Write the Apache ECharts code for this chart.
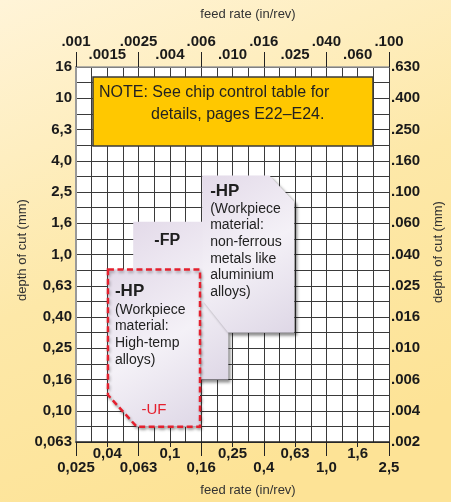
<!DOCTYPE html>
<html><head><meta charset="utf-8">
<script src="https://cdn.jsdelivr.net/npm/echarts@6/dist/echarts.min.js"></script>
<style>html,body{margin:0;padding:0;background:#fff}#c{width:451px;height:502px}</style>
</head><body><div id="c"></div>
<script>
// ---- data ----
const feedMmLabels = ['0,025','0,04','0,063','0,1','0,16','0,25','0,4','0,63','1,0','1,6','2,5'];
const feedInLabels = ['.001','.0015','.0025','.004','.006','.010','.016','.025','.040','.060','.100'];
const depthMmLabels = ['0,063','0,10','0,16','0,25','0,40','0,63','1,0','1,6','2,5','4,0','6,3','10','16'];
const depthInLabels = ['.002','.004','.006','.010','.016','.025','.040','.060','.100','.160','.250','.400','.630'];
// chipbreaker application areas: [feed rate mm/rev, depth of cut mm]
const regionFP = [[0.058,1.62],[0.235,1.62],[0.235,0.158],[0.058,0.158]];
const regionHPnonFerrous = [[0.16,3.2],[0.43,3.2],[0.62,2.17],[0.62,0.315],[0.235,0.315],[0.16,0.51]];
const regionHPhighTemp = [[0.04,0.8],[0.155,0.8],[0.155,0.079],[0.061,0.079],[0.04,0.126]];
const textFP = ['-FP'];
const textHPnonFerrous = ['-HP','(Workpiece','material:','non-ferrous','metals like','aluminium','alloys)'];
const textHPhighTemp = ['-HP','(Workpiece','material:','High-temp','alloys)'];
const textUF = '-UF';
const noteLines = ['NOTE: See chip control table for','details, pages E22\u2013E24.'];

// ---- scales: log axes expressed in tenths of a decade ----
const FEED_MIN = 0.025, DEPTH_MIN = 0.063;
const fx = v => 10 * Math.log10(v / FEED_MIN);
const fy = v => 10 * Math.log10(v / DEPTH_MIN);

const F = '"Liberation Sans",Arial,sans-serif';
const GRID = '#3a3a3a';
const LBL = 15;
const lab = (arr, v) => arr[Math.round(v / 2)];

const shapeFill = {type:'linear',x:0,y:0,x2:1,y2:1,colorStops:[
  {offset:0,color:'#E3DAE9'},{offset:0.5,color:'#F4F1F7'},{offset:1,color:'#DED7E6'}]};

function regionSeries(name, pts, z, style, textFn) {
  return {
    type:'custom', name, coordinateSystem:'cartesian2d', xAxisIndex:0, yAxisIndex:0,
    z, clip:false, silent:true, data:[0],
    renderItem(params, api) {
      const points = pts.map(p => api.coord([fx(p[0]), fy(p[1])]));
      const children = [{type:'polygon', shape:{points}, style}];
      textFn(points[0]).forEach(t => children.push(t));
      return {type:'group', children};
    }
  };
}
function txt(x, y, s, size, bold, color, align) {
  return {type:'text', x, y, style:{text:s, fill:color||'#222', font:(bold?'bold ':'')+size+'px '+F,
    textAlign:align||'left', textVerticalAlign:'middle'}};
}
const axLbl = (margin, fmt) => ({margin, showMinLabel:true, showMaxLabel:true, color:'#1a1a1a',
  fontFamily:F, fontWeight:'bold', fontSize:LBL, formatter:fmt});

const baseX = {type:'value', min:0, max:20, gridIndex:0};
const option = {
  backgroundColor:{type:'linear',x:0,y:0,x2:0.45,y2:1,colorStops:[{offset:0,color:'#FFF4D8'},{offset:0.55,color:'#FDE8A8'},{offset:1,color:'#FDE396'}]},
  animation:false,
  grid:{left:76, right:62, top:67, bottom:60, show:true, backgroundColor:'#fff', borderWidth:0},
  xAxis:[
    Object.assign({}, baseX, {position:'bottom', interval:2,
      axisLine:{show:true, lineStyle:{color:'#222', width:1.5}},
      axisTick:{show:true, length:5, lineStyle:{color:'#222'}},
      splitLine:{show:true, lineStyle:{color:GRID, width:1}},
      minorTick:{show:false, splitNumber:2},
      minorSplitLine:{show:true, lineStyle:{color:GRID, width:1}},
      axisLabel:axLbl(4, v => (Math.round(v/2)%2===1) ? lab(feedMmLabels, v) : '')}),
    Object.assign({}, baseX, {position:'bottom', interval:4,
      axisLine:{show:false}, splitLine:{show:false},
      axisTick:{show:true, length:14, lineStyle:{color:'#222'}},
      axisLabel:axLbl(18, v => lab(feedMmLabels, v))}),
    Object.assign({}, baseX, {position:'top', interval:4,
      axisLine:{show:true, lineStyle:{color:'#999', width:1.5}}, splitLine:{show:false},
      axisTick:{show:true, length:15, lineStyle:{color:'#222'}},
      axisLabel:axLbl(18, v => lab(feedInLabels, v))}),
    Object.assign({}, baseX, {position:'top', interval:2,
      axisLine:{show:false}, splitLine:{show:false},
      axisTick:{show:false},
      axisLabel:axLbl(5, v => (Math.round(v/2)%2===1) ? lab(feedInLabels, v) : '')})
  ],
  yAxis:[
    {type:'value', min:0, max:24, interval:2, position:'left',
      axisLine:{show:true, lineStyle:{color:'#999', width:2}},
      axisTick:{show:false},
      splitLine:{show:true, lineStyle:{color:GRID, width:1}},
      minorTick:{show:false, splitNumber:2},
      minorSplitLine:{show:true, lineStyle:{color:GRID, width:1}},
      axisLabel:axLbl(4, v => lab(depthMmLabels, v))},
    {type:'value', min:0, max:24, interval:2, position:'right',
      axisLine:{show:true, lineStyle:{color:'#999', width:2}},
      axisTick:{show:false}, splitLine:{show:false},
      axisLabel:axLbl(2, v => lab(depthInLabels, v))}
  ],
  series:[
    regionSeries('-FP', regionFP, 10,
      {fill:shapeFill, stroke:'rgba(0,0,0,0)', shadowBlur:3, shadowColor:'rgba(0,0,0,0.45)', shadowOffsetX:3, shadowOffsetY:3},
      p0 => [txt(p0[0]+34, p0[1]+19, textFP[0], 16, true, '#1f1f1f', 'center')]),
    regionSeries('-HP non-ferrous', regionHPnonFerrous, 11,
      {fill:shapeFill, stroke:'rgba(0,0,0,0)', shadowBlur:3, shadowColor:'rgba(0,0,0,0.45)', shadowOffsetX:3, shadowOffsetY:3},
      p0 => textHPnonFerrous.map((s,i) => i===0 ? txt(p0[0]+8, p0[1]+16, s, 17, true, '#1f1f1f')
                                                : txt(p0[0]+8, p0[1]+16+i*16.7+0.5, s, 14, false, '#222'))),
    regionSeries('-HP high-temp', regionHPhighTemp, 12,
      {fill:shapeFill, stroke:'#E5202E', lineWidth:2.5, lineDash:[6,3.5], shadowBlur:3, shadowColor:'rgba(0,0,0,0.3)', shadowOffsetX:1, shadowOffsetY:2},
      p0 => textHPhighTemp.map((s,i) => i===0 ? txt(p0[0]+7, p0[1]+22, s, 17, true, '#1f1f1f')
                                              : txt(p0[0]+7, p0[1]+22+i*16.7+1.5, s, 14, false, '#222'))
            .concat([txt(p0[0]+46, p0[1]+140, textUF, 15, false, '#E5202E', 'center')]))
  ],
  graphic:[
    {type:'rect', z:100, shape:{x:93, y:77, width:280, height:69}, style:{fill:'#FFC800', stroke:'#3a3a3a', lineWidth:1.5}},
    {type:'text', z:101, x:99, y:93, style:{text:noteLines[0], font:'16px '+F, fill:'#222', textVerticalAlign:'middle'}},
    {type:'text', z:101, x:151, y:115, style:{text:noteLines[1], font:'16px '+F, fill:'#222', textVerticalAlign:'middle'}},
    {type:'text', z:101, x:248, y:14, style:{text:'feed rate (in/rev)', font:'13px '+F, fill:'#333', textAlign:'center', textVerticalAlign:'middle'}},
    {type:'text', z:101, x:248, y:490, style:{text:'feed rate (in/rev)', font:'13px '+F, fill:'#333', textAlign:'center', textVerticalAlign:'middle'}},
    {type:'text', z:101, x:22, y:250, rotation:Math.PI/2, style:{text:'depth of cut (mm)', font:'13px '+F, fill:'#333', textAlign:'center', textVerticalAlign:'middle'}},
    {type:'text', z:101, x:438, y:252, rotation:Math.PI/2, style:{text:'depth of cut (mm)', font:'13px '+F, fill:'#333', textAlign:'center', textVerticalAlign:'middle'}}
  ]
};
const chart = echarts.init(document.getElementById('c'), null, {renderer:'canvas'});
chart.setOption(option);
</script></body></html>
